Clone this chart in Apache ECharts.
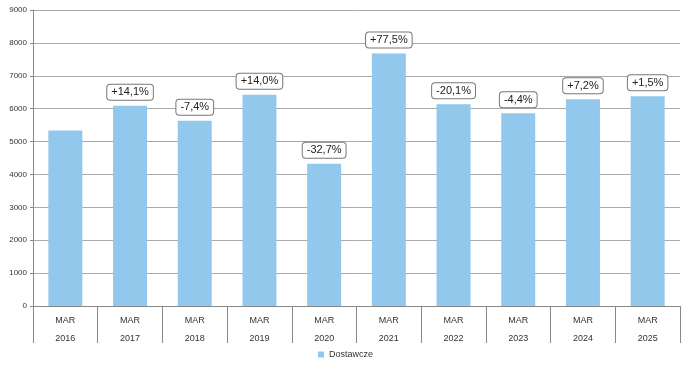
<!DOCTYPE html>
<html>
<head>
<meta charset="utf-8">
<script src="https://cdn.jsdelivr.net/npm/echarts@6/dist/echarts.min.js"></script>
<style>html,body{margin:0;padding:0;background:#fff}#c{width:691px;height:370px}</style>
</head>
<body>
<div id="c"></div>
<script>
const categories = ["MAR\n2016","MAR\n2017","MAR\n2018","MAR\n2019","MAR\n2020","MAR\n2021","MAR\n2022","MAR\n2023","MAR\n2024","MAR\n2025"];
const values = [5334, 6086, 5636, 6425, 4324, 7675, 6132, 5862, 6284, 6379];
const changeLabels = [null, "+14,1%", "-7,4%", "+14,0%", "-32,7%", "+77,5%", "-20,1%", "-4,4%", "+7,2%", "+1,5%"];
const seriesName = "Dostawcze";

const chart = echarts.init(document.getElementById('c'));
const FONT = "'Liberation Sans', Arial, sans-serif";
const barData = values.map((v, i) => changeLabels[i] ? {value: v} : {value: v, label: {show: false}});
chart.setOption({
  animation: false,
  grid: {left: 33, right: 11, top: 10, bottom: 64},
  legend: {
    bottom: 6, left: 'center', itemWidth: 6, itemHeight: 6, itemGap: 4,
    icon: 'rect',
    textStyle: {fontFamily: FONT, fontSize: 9, color: '#333'},
    data: [seriesName]
  },
  xAxis: {
    type: 'category',
    data: categories,
    axisLine: {show: true, lineStyle: {color: '#888', width: 1}},
    axisTick: {show: true, length: 37, lineStyle: {color: '#888'}},
    axisLabel: {fontFamily: FONT, fontSize: 9, color: '#333', lineHeight: 18, margin: 6}
  },
  yAxis: {
    type: 'value', min: 0, max: 9000, interval: 1000,
    axisLine: {show: true, lineStyle: {color: '#888'}},
    axisTick: {show: true, length: 3, lineStyle: {color: '#888'}},
    axisLabel: {fontFamily: FONT, fontSize: 8, color: '#333', margin: 6, formatter: v => String(v)},
    splitLine: {show: true, lineStyle: {color: '#aaa', width: 1}}
  },
  series: [{
    name: seriesName,
    type: 'bar',
    data: barData,
    barWidth: 34,
    itemStyle: {color: '#92C8EC'},
    label: {
      show: true, position: 'top', distance: 6,
      formatter: p => changeLabels[p.dataIndex] || '',
      fontFamily: FONT, fontSize: 11, color: '#222',
      backgroundColor: '#fff', borderColor: '#777', borderWidth: 1, borderRadius: 3,
      padding: [2, 4]
    }
  }]
});
</script>
</body>
</html>
